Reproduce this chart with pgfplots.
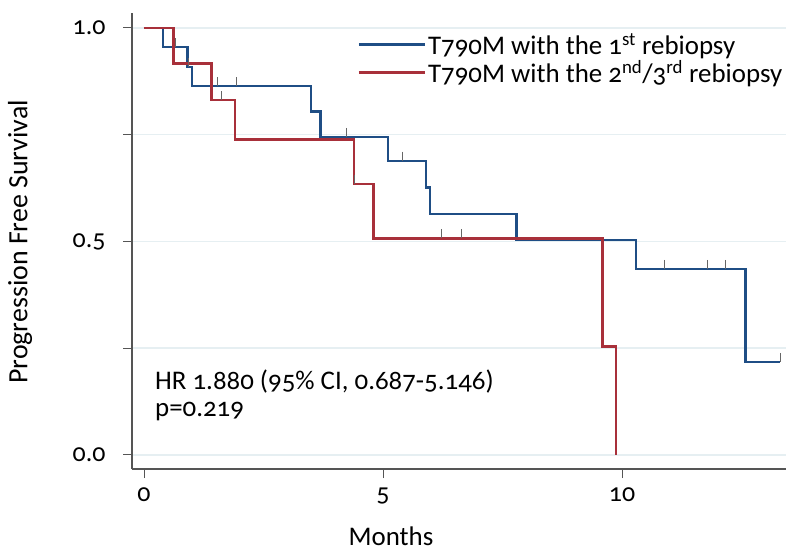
\documentclass[border=0pt]{standalone}
\usepackage{fontspec}
\setmainfont{Carlito}[Numbers=OldStyle]
\usepackage{pgfplots}
\pgfplotsset{compat=1.18}
\usetikzlibrary{calc}
\definecolor{kmblue}{HTML}{1F4E85}
\definecolor{kmred}{HTML}{A8303A}
\definecolor{gridc}{HTML}{E6EFF2}
\definecolor{axc}{HTML}{555555}
\begin{document}
\begin{tikzpicture}
\begin{axis}[
  scale only axis, width=654bp, height=456bp,
  xmin=-0.25, xmax=13.43, ymin=-0.033, ymax=1.035,
  axis x line*=bottom, axis y line*=left,
  axis line style={axc, line width=1.1pt, -},
  xtick={0,5,10}, ytick={0,0.25,0.5,0.75,1},
  yticklabels={0.0,,0.5,,1.0},
  tick align=outside, major tick length=9bp,
  tick style={axc, line width=0.9pt},
  ymajorgrids, grid style={gridc, line width=1.6pt},
  /pgf/number format/assume math mode=true,
  tick label style={font=\fontsize{26}{30}\selectfont},
  xticklabel style={yshift=-6bp},
  yticklabel style={xshift=-14bp},
  xlabel={Months}, ylabel={Progression Free Survival},
  xlabel style={font=\fontsize{27}{32}\selectfont, inner sep=0pt},
  ylabel style={font=\fontsize{28}{33}\selectfont},
  every axis x label/.append style={at={(rel axis cs:0.396,-0.167)}, anchor=base},
  every axis y label/.append style={at={(rel axis cs:-0.171,0.498)}, anchor=center},
  legend style={at={(rel axis cs:0.345,0.96)}, anchor=north west, draw=none, fill=none,
    font=\fontsize{27}{32}\selectfont, row sep=1bp, inner sep=0pt},
  legend cell align=left,
  legend image code/.code={\draw[#1, line width=2.2pt] (0bp,0bp) -- (55bp,0bp);
    \path (0bp,0bp) -- (66bp,0bp);},
  clip=false,
]
\addplot[const plot, kmblue, line width=2.3pt] coordinates {
(0,1) (0.40,0.955) (0.91,0.909) (1.00,0.864) (3.49,0.804) (3.69,0.745)
(5.11,0.689) (5.90,0.626) (5.99,0.564) (7.79,0.503) (10.29,0.436)
(12.58,0.218) (13.31,0.218)};
\addlegendentry{T790M with the 1\textsuperscript{st} rebiopsy}
\addplot[const plot, kmred, line width=2.3pt] coordinates {
(0,1) (0.62,0.917) (1.41,0.831) (1.91,0.739) (4.39,0.634) (4.80,0.507)
(9.59,0.254) (9.88,0)};
\addlegendentry{T790M with the 2\textsuperscript{nd}/3\textsuperscript{rd} rebiopsy}
\addplot[only marks, mark=|, mark size=4.5bp, gray!80!black, line width=0.8pt,
  mark options={yshift=4.5bp}, forget plot] coordinates {
(0.66,0.955) (0.92,0.909) (1.54,0.864) (1.93,0.864) (4.23,0.745) (5.41,0.689)
(10.88,0.436) (11.78,0.436) (12.16,0.436) (13.31,0.218)};
\addplot[only marks, mark=|, mark size=4.5bp, gray!80!black, line width=0.8pt,
  mark options={yshift=4.5bp}, forget plot] coordinates {
(1.63,0.831) (4.40,0.634) (6.23,0.507) (6.63,0.507)};
\node[anchor=west, font=\fontsize{27}{32}\selectfont, inner sep=0pt] at (axis cs:0.23,0.171) {HR 1.880 (95\% CI, 0.687-5.146)};
\node[anchor=west, font=\fontsize{27}{32}\selectfont, inner sep=0pt] at (axis cs:0.23,0.101) {p=0.219};
\coordinate (sw) at (rel axis cs:0,0);
\coordinate (ne) at (rel axis cs:1,1);
\end{axis}
\pgfresetboundingbox
\path[use as bounding box] ($(sw)+(-132bp,-84bp)$) rectangle ($(ne)+(0bp,13bp)$);
\end{tikzpicture}
\end{document}
